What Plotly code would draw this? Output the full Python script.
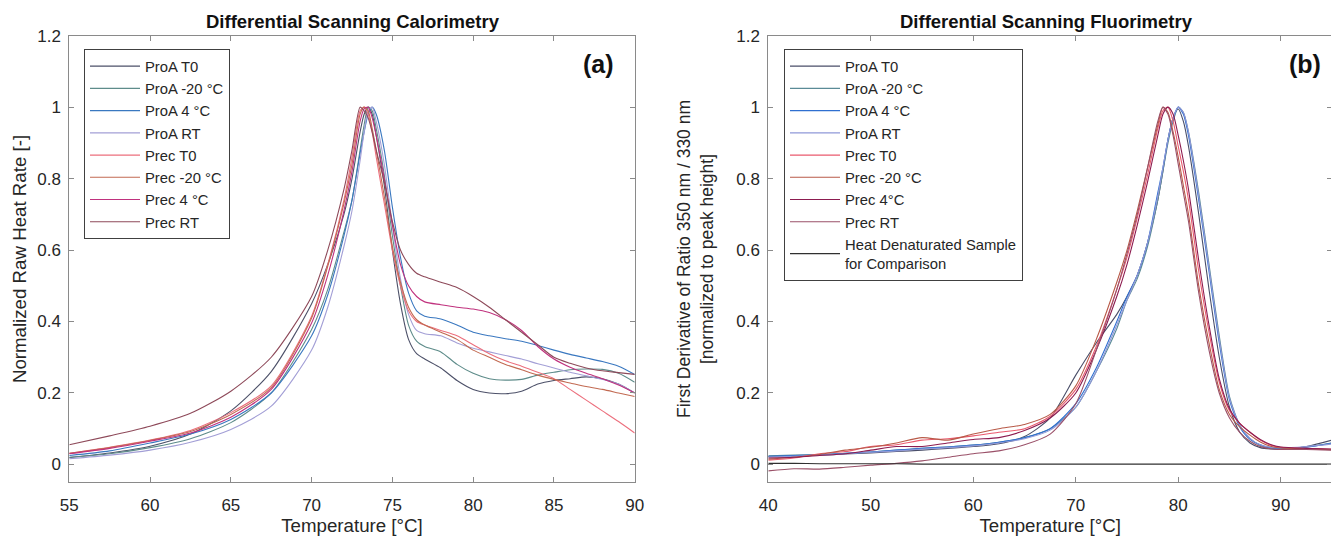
import plotly.graph_objects as go

# ---------------- Panel (a): Differential Scanning Calorimetry ----------------
names_a = ["ProA T0", "ProA -20 °C", "ProA 4 °C", "ProA RT",
           "Prec T0", "Prec -20 °C", "Prec 4 °C", "Prec RT"]
colors_a = ["#4d5169", "#5e8c8a", "#3a78c0", "#a39fd6",
            "#ec6f7d", "#c26a52", "#c0327e", "#8e4a5a"]

temp_dsc = [55, 57.5, 60, 62.5, 65, 67.5, 70, 71, 72, 72.5, 73, 73.25, 73.5, 73.75,
            74, 74.5, 75, 75.5, 76, 76.5, 77, 78, 79, 80, 81, 82, 83, 84, 85, 86,
            87, 88, 89, 90]

dsc_proa_t0 = [0.019, 0.032, 0.051, 0.085, 0.15, 0.26, 0.45, 0.56, 0.70, 0.80, 0.93, 0.98, 1.0, 0.98,
               0.92, 0.78, 0.60, 0.45, 0.35, 0.31, 0.295, 0.27, 0.235, 0.21, 0.20, 0.198, 0.205, 0.225,
               0.235, 0.24, 0.245, 0.24, 0.225, 0.20]
dsc_proa_m20 = [0.02, 0.03, 0.047, 0.072, 0.117, 0.20, 0.378, 0.49, 0.65, 0.74, 0.88, 0.95, 1.0, 0.99,
                0.94, 0.81, 0.64, 0.50, 0.39, 0.345, 0.33, 0.315, 0.28, 0.255, 0.24, 0.236, 0.238, 0.25,
                0.258, 0.265, 0.267, 0.266, 0.255, 0.23]
dsc_proa_4 = [0.025, 0.038, 0.06, 0.085, 0.126, 0.20, 0.36, 0.475, 0.64, 0.74, 0.87, 0.93, 0.98, 1.0,
              0.98, 0.88, 0.72, 0.58, 0.48, 0.43, 0.415, 0.407, 0.39, 0.37, 0.36, 0.352, 0.345, 0.333,
              0.32, 0.308, 0.298, 0.288, 0.275, 0.252]
dsc_proa_rt = [0.016, 0.026, 0.04, 0.062, 0.098, 0.163, 0.32, 0.44, 0.61, 0.71, 0.85, 0.93, 0.99, 1.0,
               0.96, 0.84, 0.67, 0.52, 0.42, 0.375, 0.366, 0.36, 0.34, 0.325, 0.315, 0.305, 0.295, 0.282,
               0.27, 0.258, 0.248, 0.238, 0.225, 0.20]
dsc_prec_t0 = [0.031, 0.048, 0.068, 0.095, 0.145, 0.22, 0.415, 0.56, 0.74, 0.86, 0.99, 1.0, 0.98, 0.93,
               0.86, 0.73, 0.60, 0.50, 0.43, 0.40, 0.39, 0.375, 0.36, 0.335, 0.31, 0.29, 0.275, 0.258,
               0.24, 0.21, 0.18, 0.15, 0.12, 0.088]
dsc_prec_m20 = [0.031, 0.047, 0.067, 0.092, 0.14, 0.215, 0.41, 0.555, 0.73, 0.84, 0.98, 1.0, 0.99, 0.94,
                0.88, 0.75, 0.61, 0.51, 0.44, 0.405, 0.39, 0.37, 0.35, 0.32, 0.30, 0.28, 0.265, 0.25,
                0.238, 0.228, 0.218, 0.21, 0.20, 0.19]
dsc_prec_4 = [0.03, 0.045, 0.065, 0.088, 0.132, 0.21, 0.396, 0.53, 0.71, 0.82, 0.96, 0.995, 1.0, 0.97,
              0.92, 0.80, 0.67, 0.56, 0.50, 0.47, 0.455, 0.447, 0.44, 0.435, 0.425, 0.405, 0.375, 0.33,
              0.295, 0.272, 0.255, 0.24, 0.222, 0.20]
dsc_prec_rt = [0.055, 0.08, 0.107, 0.143, 0.205, 0.30, 0.47, 0.60, 0.77, 0.88, 1.0, 0.99, 0.97, 0.93,
               0.88, 0.79, 0.68, 0.60, 0.56, 0.535, 0.525, 0.51, 0.495, 0.47, 0.44, 0.405, 0.37, 0.335,
               0.30, 0.283, 0.27, 0.262, 0.257, 0.252]

series_a = [dsc_proa_t0, dsc_proa_m20, dsc_proa_4, dsc_proa_rt,
            dsc_prec_t0, dsc_prec_m20, dsc_prec_4, dsc_prec_rt]

# ---------------- Panel (b): Differential Scanning Fluorimetry ----------------
names_b = ["ProA T0", "ProA -20 °C", "ProA 4 °C", "ProA RT",
           "Prec T0", "Prec -20 °C", "Prec 4°C", "Prec RT",
           "Heat Denaturated Sample<br>for Comparison"]
colors_b = ["#4a4e68", "#5a8a96", "#2f6fd0", "#8f98d8",
            "#ea5a6e", "#b85a48", "#8c1c50", "#9a5068", "#303030"]

temp_dsf = [40, 42.5, 45, 47.5, 50, 52.5, 55, 57.5, 60, 62.5, 65, 67.5, 70, 72, 74, 75, 76, 77,
            78, 78.5, 79, 79.5, 80, 80.5, 81, 82, 83, 84, 85, 86, 87, 88, 89, 90, 92.5, 95]

dsf_proa_t0 = [0.022, 0.024, 0.026, 0.029, 0.032, 0.036, 0.04, 0.045, 0.05, 0.058, 0.078, 0.13,
               0.25, 0.34, 0.42, 0.47, 0.53, 0.62, 0.74, 0.82, 0.91, 0.97, 0.995, 0.96, 0.89, 0.70,
               0.49, 0.30, 0.16, 0.09, 0.06, 0.047, 0.043, 0.042, 0.05, 0.068]
dsf_proa_m20 = [0.024, 0.026, 0.028, 0.031, 0.035, 0.04, 0.045, 0.049, 0.054, 0.062, 0.075, 0.10,
                0.16, 0.26, 0.38, 0.46, 0.52, 0.61, 0.74, 0.82, 0.90, 0.96, 1.0, 0.985, 0.93, 0.76,
                0.56, 0.36, 0.19, 0.11, 0.072, 0.053, 0.046, 0.045, 0.049, 0.06]
dsf_proa_4 = [0.023, 0.025, 0.027, 0.031, 0.035, 0.04, 0.045, 0.049, 0.054, 0.062, 0.075, 0.10,
              0.17, 0.27, 0.40, 0.47, 0.53, 0.62, 0.76, 0.83, 0.91, 0.97, 1.0, 0.98, 0.92, 0.74,
              0.54, 0.34, 0.18, 0.105, 0.07, 0.055, 0.047, 0.045, 0.048, 0.06]
dsf_proa_rt = [0.021, 0.023, 0.026, 0.03, 0.034, 0.038, 0.043, 0.047, 0.052, 0.06, 0.072, 0.096,
               0.16, 0.26, 0.39, 0.46, 0.53, 0.62, 0.75, 0.83, 0.91, 0.97, 1.0, 0.985, 0.93, 0.75,
               0.55, 0.35, 0.185, 0.11, 0.073, 0.055, 0.048, 0.046, 0.05, 0.057]
dsf_prec_t0 = [0.012, 0.018, 0.03, 0.036, 0.05, 0.055, 0.068, 0.072, 0.08, 0.09, 0.10, 0.135,
               0.21, 0.33, 0.49, 0.58, 0.69, 0.81, 0.94, 0.99, 1.0, 0.96, 0.89, 0.82, 0.74, 0.54,
               0.37, 0.23, 0.15, 0.115, 0.09, 0.068, 0.054, 0.048, 0.045, 0.042]
dsf_prec_m20 = [0.015, 0.02, 0.028, 0.04, 0.048, 0.06, 0.075, 0.068, 0.085, 0.10, 0.112, 0.14,
                0.22, 0.35, 0.51, 0.60, 0.71, 0.83, 0.95, 1.0, 0.985, 0.93, 0.86, 0.78, 0.70, 0.50,
                0.34, 0.21, 0.14, 0.105, 0.082, 0.063, 0.051, 0.046, 0.044, 0.041]
dsf_prec_4 = [0.018, 0.02, 0.025, 0.03, 0.04, 0.05, 0.05, 0.06, 0.07, 0.075, 0.095, 0.13,
              0.20, 0.32, 0.47, 0.56, 0.67, 0.79, 0.92, 0.98, 1.0, 0.98, 0.92, 0.85, 0.77, 0.57,
              0.39, 0.24, 0.155, 0.115, 0.09, 0.07, 0.056, 0.049, 0.045, 0.043]
dsf_prec_rt = [-0.018, -0.012, -0.013, -0.008, -0.002, 0.003, 0.01, 0.02, 0.03, 0.038, 0.055, 0.085,
               0.17, 0.32, 0.49, 0.59, 0.70, 0.83, 0.96, 1.0, 0.98, 0.92, 0.84, 0.76, 0.68, 0.48,
               0.32, 0.20, 0.13, 0.09, 0.065, 0.05, 0.044, 0.042, 0.042, 0.04]
dsf_heat = [0.003, 0.003, 0.002, 0.002, 0.002, 0.002, 0.001, 0.001, 0.001, 0.001, 0.001, 0.001,
            0.001, 0.001, 0.001, 0.001, 0.001, 0.001, 0.001, 0.001, 0.001, 0.001, 0.001, 0.001, 0.001, 0.001,
            0.001, 0.001, 0.001, 0.001, 0.001, 0.001, 0.001, 0.001, 0.001, 0.001]

series_b = [dsf_proa_t0, dsf_proa_m20, dsf_proa_4, dsf_proa_rt,
            dsf_prec_t0, dsf_prec_m20, dsf_prec_4, dsf_prec_rt, dsf_heat]

xticks_a = [55, 60, 65, 70, 75, 80, 85, 90]
xticks_b = [40, 50, 60, 70, 80, 90]
yticks = [0, 0.2, 0.4, 0.6, 0.8, 1, 1.2]
yticktext = ["0", "0.2", "0.4", "0.6", "0.8", "1", "1.2"]

FONT = "Liberation Sans, Arial, Helvetica, sans-serif"
TXT = "#262626"
AXC = "#8a8a8a"

# The page body adds an 8 px margin, so the figure is 8 px smaller than the window
W, H, OFF = 1331, 530, 8


def px(xp):
    return (xp - OFF) / W


def py(yp):
    return 1 - (yp - OFF) / H


fig = go.Figure()
for nm, col, ys in zip(names_a, colors_a, series_a):
    fig.add_trace(go.Scatter(x=temp_dsc, y=ys, mode="lines", name=nm,
                             line=dict(color=col, width=1.1, shape="spline", smoothing=0.7),
                             xaxis="x", yaxis="y", legend="legend"))
for nm, col, ys in zip(names_b, colors_b, series_b):
    fig.add_trace(go.Scatter(x=temp_dsf, y=ys, mode="lines", name=nm,
                             line=dict(color=col, width=1.1, shape="spline", smoothing=0.7),
                             xaxis="x2", yaxis="y2", legend="legend2"))

axis_common = dict(showgrid=False, zeroline=False, showline=True, linecolor=AXC, linewidth=1,
                   mirror="ticks", ticks="inside", ticklen=5, tickcolor=AXC, tickwidth=1,
                   tickfont=dict(family=FONT, size=17, color=TXT), autorange=False,
                   automargin=False)

ydom = [py(482.3), py(35.7)]
TITLE_FONT = dict(family=FONT, size=18.7, color=TXT)

fig.update_layout(
    template="none",
    width=W, height=H,
    margin=dict(l=0, r=0, t=0, b=0, pad=0, autoexpand=False),
    paper_bgcolor="white", plot_bgcolor="white",
    font=dict(family=FONT, size=16, color=TXT),
    xaxis=dict(axis_common, domain=[px(69.3), px(634.7)], range=[55, 90], tickvals=xticks_a,
               anchor="y", ticklabelstandoff=7,
               title=dict(text="Temperature [°C]", font=TITLE_FONT, standoff=4)),
    yaxis=dict(axis_common, domain=ydom, range=[-0.05, 1.2], tickvals=yticks, ticktext=yticktext,
               anchor="x", ticklabelstandoff=4,
               title=dict(text="Normalized Raw Heat Rate [-]", font=TITLE_FONT, standoff=5)),
    xaxis2=dict(axis_common, domain=[px(768.3), px(1332)], range=[40, 95], tickvals=xticks_b,
                anchor="y2", ticklabelstandoff=7,
                title=dict(text="Temperature [°C]", font=TITLE_FONT, standoff=4)),
    yaxis2=dict(axis_common, domain=ydom, range=[-0.05, 1.2], tickvals=yticks, ticktext=yticktext,
                anchor="x2", ticklabelstandoff=4,
                title=dict(text="First Derivative of Ratio 350 nm / 330 nm<br>[normalized to peak height]",
                           font=dict(family=FONT, size=17.5, color=TXT), standoff=18)),
    legend=dict(x=px(84), y=py(49), xanchor="left", yanchor="top",
                bgcolor="white", bordercolor="#404040", borderwidth=1,
                font=dict(family=FONT, size=14.8, color=TXT), itemwidth=50, tracegroupgap=0),
    legend2=dict(x=px(784), y=py(49), xanchor="left", yanchor="top",
                 bgcolor="white", bordercolor="#404040", borderwidth=1,
                 font=dict(family=FONT, size=14.8, color=TXT), itemwidth=50, tracegroupgap=0),
    showlegend=True,
    annotations=[
        dict(text="<b>Differential Scanning Calorimetry</b>", x=px(353), y=py(22),
             xref="paper", yref="paper", showarrow=False, xanchor="center", yanchor="middle",
             font=dict(family=FONT, size=18.5, color="#111111")),
        dict(text="<b>Differential Scanning Fluorimetry</b>", x=px(1046), y=py(22),
             xref="paper", yref="paper", showarrow=False, xanchor="center", yanchor="middle",
             font=dict(family=FONT, size=18.5, color="#111111")),
        dict(text="<b>(a)</b>", x=px(598), y=py(64), xref="paper", yref="paper",
             showarrow=False, xanchor="center", yanchor="middle",
             font=dict(family=FONT, size=25, color="#111111")),
        dict(text="<b>(b)</b>", x=px(1305), y=py(64), xref="paper", yref="paper",
             showarrow=False, xanchor="center", yanchor="middle",
             font=dict(family=FONT, size=25, color="#111111")),
    ],
)

fig.write_html("out.html")
